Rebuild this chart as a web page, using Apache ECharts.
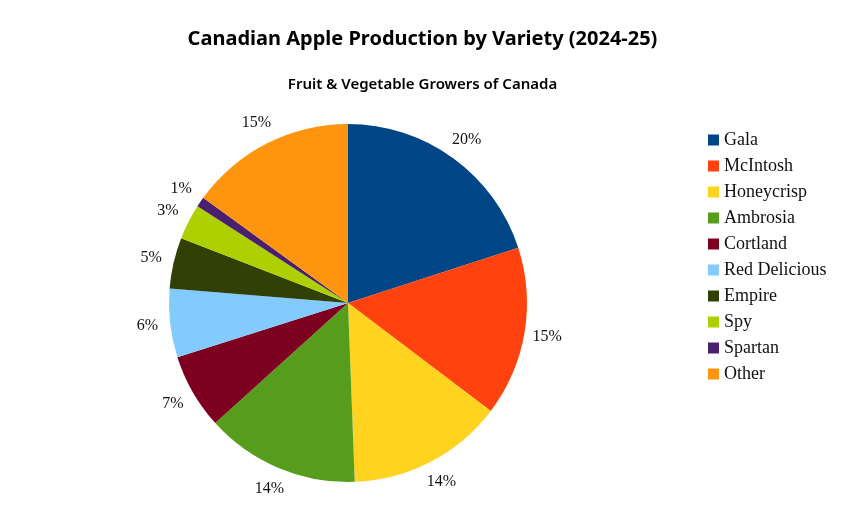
<!DOCTYPE html>
<html>
<head>
<meta charset="utf-8">
<script src="https://cdn.jsdelivr.net/npm/echarts@6/dist/echarts.min.js"></script>
<style>
html,body{margin:0;padding:0;background:#fff;}
#chart{width:845px;height:513px;}
</style>
</head>
<body>
<div id="chart"></div>
<script>
const categories = ['Gala','McIntosh','Honeycrisp','Ambrosia','Cortland','Red Delicious','Empire','Spy','Spartan','Other'];
const shares = [20.0, 15.3, 14.1, 13.9, 6.8, 6.2, 4.6, 3.2, 0.9, 15.0];
const colors = ['#004586','#ff420e','#ffd320','#579d1c','#7e0021','#83caff','#314004','#aecf00','#4b1f6f','#ff950e'];
const titleText = 'Canadian Apple Production by Variety (2024-25)';
const subtitleText = 'Fruit & Vegetable Growers of Canada';

const pieData = categories.map((n, i) => ({ name: n, value: shares[i], itemStyle: { color: colors[i] } }));
const labelData = categories.map((n, i) => ({ name: n, value: shares[i], itemStyle: { color: 'rgba(0,0,0,0)' } }));

const chart = echarts.init(document.getElementById('chart'), null, { renderer: 'canvas' });
chart.setOption({
  backgroundColor: '#ffffff',
  animation: false,
  title: [
    { text: titleText, left: 'center', top: 24,
      textStyle: { fontFamily: 'Noto Sans', fontWeight: 'bold', fontSize: 20, color: '#000' } },
    { text: subtitleText, left: 'center', top: 72,
      textStyle: { fontFamily: 'Noto Sans', fontWeight: 600, fontSize: 15, color: '#000' } }
  ],
  legend: {
    orient: 'vertical',
    left: 708,
    top: 131,
    padding: 0,
    itemWidth: 11,
    itemHeight: 11,
    itemGap: 8,
    icon: 'rect',
    data: categories,
    textStyle: { fontFamily: 'Liberation Serif', fontSize: 18, lineHeight: 18, color: '#111' }
  },
  series: [
    {
      type: 'pie',
      center: [348, 303],
      radius: [0, 179],
      startAngle: 90,
      clockwise: true,
      data: pieData,
      label: { show: false },
      labelLine: { show: false },
      emphasis: { disabled: true }
    },
    {
      type: 'pie',
      center: [348, 303],
      radius: [184, 214],
      startAngle: 90,
      clockwise: true,
      silent: true,
      percentPrecision: 0,
      data: labelData,
      label: {
        show: true,
        position: 'inside',
        formatter: '{d}%',
        fontFamily: 'Liberation Serif',
        fontSize: 16,
        color: '#111'
      },
      labelLine: { show: false },
      emphasis: { disabled: true }
    }
  ]
});
</script>
</body>
</html>
